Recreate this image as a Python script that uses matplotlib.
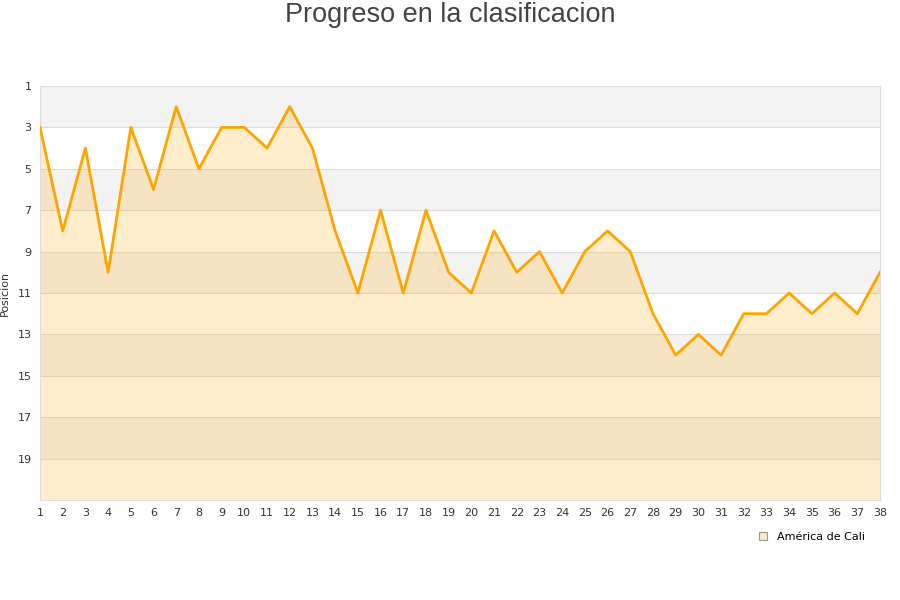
import matplotlib
matplotlib.use("Agg")
import matplotlib.pyplot as plt
from matplotlib.lines import Line2D

jornadas = list(range(1, 39))
posiciones = [3, 8, 4, 10, 3, 6, 2, 5, 3, 3, 4, 2, 4, 8, 11, 7, 11, 7, 10, 11,
              8, 10, 9, 11, 9, 8, 9, 12, 14, 13, 14, 12, 12, 11, 12, 11, 12, 10]
equipo = "América de Cali"
yticks = list(range(1, 21, 2))

fig = plt.figure(figsize=(9, 6), dpi=100)
ax = fig.add_axes([40 / 900, 1 - 500 / 600, 840 / 900, 414 / 600])

# bandas alternas
for i, y0 in enumerate(range(1, 21, 2)):
    if i % 2 == 0:
        ax.axhspan(y0, y0 + 2, color="#f3f3f3", zorder=0, lw=0)
for y in yticks[1:]:
    ax.axhline(y, color="#dddddd", lw=0.8, zorder=1)

ax.fill_between(jornadas, posiciones, 21, color="#ffa500", alpha=0.2, lw=0, zorder=2)
ax.plot(jornadas, posiciones, color="#ffa500", lw=2, zorder=3)

ax.set_xlim(1, 38)
ax.set_ylim(21, 1)
ax.set_xticks(jornadas)
ax.set_yticks(yticks)
ax.tick_params(length=0, labelsize=8, colors="#333333", pad=6)
for s in ax.spines.values():
    s.set_color("#dddddd")
ax.set_ylabel("Posicion", fontsize=8, color="#333333")
ax.yaxis.set_label_coords(-30 / 840, 0.5)

fig.text(0.5, 1 - 15 / 600, "Progreso en la clasificacion", ha="center", va="center",
         fontsize=19.5, color="#444444", family="Liberation Sans")

h = Line2D([], [], marker="s", ls="none", markersize=6, markerfacecolor="#ffe9c4",
           markeredgecolor="#999999", markeredgewidth=0.8)
fig.legend([h], [equipo], loc="center right", bbox_to_anchor=(875 / 900, 1 - 537 / 600),
           frameon=False, fontsize=8, handletextpad=0.3)

fig.savefig("out.png")
